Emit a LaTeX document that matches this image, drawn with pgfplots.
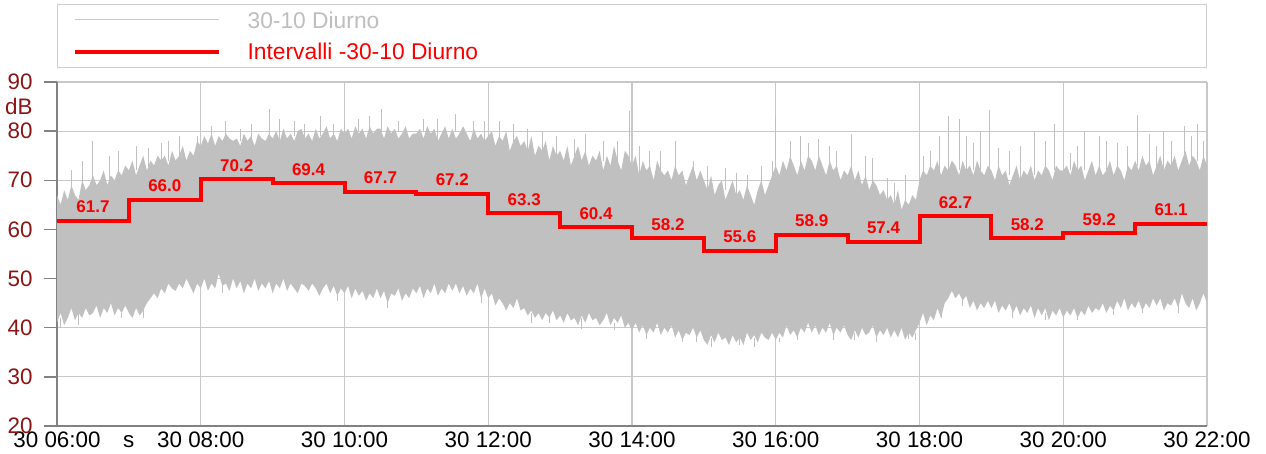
\documentclass[border=0pt]{standalone}
\usepackage{fontspec}
\setmainfont{Liberation Sans}
\usepackage{pgfplots}
\pgfplotsset{compat=1.18}
\usepgfplotslibrary{fillbetween}
\definecolor{datagray}{RGB}{192,192,192}
\definecolor{gridgray}{RGB}{200,200,200}
\definecolor{axisgray}{RGB}{130,130,130}
\definecolor{tickred}{RGB}{140,20,20}
\definecolor{stepred}{RGB}{250,0,0}
\definecolor{leggray}{RGB}{190,190,190}
\definecolor{legframe}{RGB}{205,205,205}
\begin{document}
\begin{tikzpicture}
\begin{axis}[
  scale only axis, width=575pt, height=172pt,
  xmin=6, xmax=22, ymin=20, ymax=90,
  axis x line*=bottom, axis y line*=left,
  axis line style={-, color=axisgray, line width=0.7pt},
  xtick={6,8,10,12,14,16,18,20,22},
  xticklabels={30 06:00,30 08:00,30 10:00,30 12:00,30 14:00,30 16:00,30 18:00,30 20:00,30 22:00},
  ytick={20,30,40,50,60,70,80,90},
  grid=major, major grid style={gridgray, line width=0.6pt},
  ytick align=outside, xtick align=inside,
  major tick length=6.5pt,
  y tick style={axisgray, line width=0.7pt},
  x tick style={draw=none},
  tick label style={font=\fontsize{11.2}{13}\selectfont},
  yticklabel style={text=tickred, inner xsep=0pt, anchor=east, xshift=-5.5pt},
  xticklabel style={text=black, anchor=base, inner sep=0pt, yshift=-11pt},
  /pgf/number format/assume math mode=true,
  xlabel={s},
  xlabel style={at={(axis description cs:0.0623,0)}, anchor=base, inner sep=0pt, yshift=-11pt, font=\fontsize{11.2}{13}\selectfont},
  ylabel={dB},
  ylabel style={rotate=-90, at={(axis description cs:0,0.93)}, anchor=east, inner sep=0pt, xshift=-12pt, text=tickred, font=\fontsize{11.2}{13}\selectfont},
  legend style={at={(axis description cs:0,1)}, anchor=south west, yshift=7pt,
    draw=legframe, line width=0.6pt, inner xsep=7.5pt, inner ysep=3.8pt,
    row sep=7.6pt, column sep=0pt,
    nodes={inner sep=0pt, text height=8.2pt, text depth=0pt, font=\fontsize{11.4}{13}\selectfont}},
  legend cell align=left,
  legend image code/.code={\draw[#1] (0pt,0pt) -- (72pt,0pt);},
]
% upper envelope of the measured level
\addplot[draw=none, name path=U, forget plot] coordinates {
(6.00,67)(6.05,65)(6.10,68)(6.15,66)(6.20,69)(6.25,67)(6.30,66)(6.35,70)(6.40,68)(6.45,69)
(6.50,71)(6.55,69)(6.60,70)(6.65,72)(6.70,69)(6.75,71)(6.80,70)(6.85,72)(6.90,71)(6.95,73)
(7.00,72)(7.05,74)(7.10,71)(7.15,73)(7.20,75)(7.25,72)(7.30,74)(7.35,73)(7.40,75)(7.45,74)
(7.50,75)(7.55,73)(7.60,76)(7.65,74)(7.70,75)(7.75,77)(7.80,74)(7.85,76)(7.90,75)(7.95,78)
(8.00,77)(8.05,79)(8.10,77.5)(8.15,79.5)(8.20,77)(8.25,79)(8.30,78)(8.35,79.5)(8.40,78.5)(8.45,78)
(8.50,78.5)(8.55,77)(8.60,79.5)(8.65,78)(8.70,79)(8.75,77)(8.80,79.5)(8.85,78.5)(8.90,78)(8.95,79.5)
(9.00,78.5)(9.05,80)(9.10,78)(9.15,80.5)(9.20,78.5)(9.25,79.5)(9.30,78)(9.35,80)(9.40,80.5)(9.45,78.5)
(9.50,79.5)(9.55,78)(9.60,80.5)(9.65,78.5)(9.70,79.5)(9.75,81)(9.80,78.5)(9.85,79.5)(9.90,78)(9.95,80.5)
(10.00,79.5)(10.05,80.5)(10.10,78.5)(10.15,81)(10.20,79.5)(10.25,80.5)(10.30,78.5)(10.35,81)(10.40,79.5)(10.45,80.5)
(10.50,80.5)(10.55,78.5)(10.60,81)(10.65,79.5)(10.70,80.5)(10.75,78.5)(10.80,79.5)(10.85,81)(10.90,78.5)(10.95,79.5)
(11.00,79.5)(11.05,80.5)(11.10,78.5)(11.15,81)(11.20,79.5)(11.25,80.5)(11.30,78)(11.35,79.5)(11.40,81)(11.45,78.5)
(11.50,80.5)(11.55,78.5)(11.60,79.5)(11.65,81)(11.70,79.5)(11.75,78)(11.80,80.5)(11.85,78.5)(11.90,79.5)(11.95,78)
(12.00,79)(12.05,80)(12.10,77)(12.15,79)(12.20,78)(12.25,80)(12.30,76)(12.35,78)(12.40,79)(12.45,77)
(12.50,78)(12.55,76)(12.60,79)(12.65,75)(12.70,77)(12.75,76)(12.80,78)(12.85,74)(12.90,77)(12.95,75)
(13.00,76)(13.05,74)(13.10,77)(13.15,73)(13.20,75)(13.25,77)(13.30,74)(13.35,76)(13.40,73)(13.45,75)
(13.50,74)(13.55,76)(13.60,72)(13.65,75)(13.70,73)(13.75,77)(13.80,74)(13.85,72)(13.90,76)(13.95,75)
(14.00,73)(14.05,75)(14.10,71)(14.15,74)(14.20,72)(14.25,73)(14.30,70)(14.35,74)(14.40,72)(14.45,71)
(14.50,72)(14.55,70)(14.60,73)(14.65,71)(14.70,72)(14.75,69)(14.80,71)(14.85,73)(14.90,70)(14.95,72)
(15.00,70)(15.05,68)(15.10,71)(15.15,67)(15.20,69)(15.25,70)(15.30,66)(15.35,68)(15.40,70)(15.45,67)
(15.50,68)(15.55,66)(15.60,69)(15.65,67)(15.70,65)(15.75,68)(15.80,70)(15.85,67)(15.90,69)(15.95,71)
(16.00,73)(16.05,71)(16.10,74)(16.15,72)(16.20,75)(16.25,73)(16.30,71)(16.35,74)(16.40,72)(16.45,75)
(16.50,74)(16.55,72)(16.60,75)(16.65,73)(16.70,71)(16.75,74)(16.80,72)(16.85,73)(16.90,70)(16.95,72)
(17.00,71)(17.05,73)(17.10,70)(17.15,72)(17.20,69)(17.25,71)(17.30,68)(17.35,70)(17.40,69)(17.45,67)
(17.50,68)(17.55,66)(17.60,67)(17.65,65)(17.70,68)(17.75,64)(17.80,66)(17.85,65)(17.90,67)(17.95,66)
(18.00,70)(18.05,72)(18.10,71)(18.15,73)(18.20,72)(18.25,74)(18.30,71)(18.35,73)(18.40,72)(18.45,74)
(18.50,73)(18.55,71)(18.60,74)(18.65,72)(18.70,73)(18.75,71)(18.80,74)(18.85,72)(18.90,71)(18.95,73)
(19.00,72)(19.05,70)(19.10,73)(19.15,71)(19.20,72)(19.25,69)(19.30,71)(19.35,73)(19.40,70)(19.45,72)
(19.50,71)(19.55,73)(19.60,70)(19.65,72)(19.70,71)(19.75,73)(19.80,72)(19.85,70)(19.90,73)(19.95,72)
(20.00,72)(20.05,73)(20.10,71)(20.15,74)(20.20,72)(20.25,73)(20.30,70)(20.35,72)(20.40,74)(20.45,71)
(20.50,73)(20.55,71)(20.60,72)(20.65,74)(20.70,71)(20.75,73)(20.80,72)(20.85,70)(20.90,73)(20.95,72)
(21.00,74)(21.05,72)(21.10,75)(21.15,73)(21.20,74)(21.25,71)(21.30,73)(21.35,75)(21.40,72)(21.45,74)
(21.50,73)(21.55,75)(21.60,72)(21.65,74)(21.70,76)(21.75,73)(21.80,75)(21.85,74)(21.90,72)(21.95,75)
(22.00,73)};
% lower envelope of the measured level
\addplot[draw=none, name path=L, forget plot] coordinates {
(6.00,41)(6.05,43)(6.10,40.5)(6.15,42)(6.20,44)(6.25,41.5)(6.30,43)(6.35,42)(6.40,44)(6.45,42.5)
(6.50,43)(6.55,44.5)(6.60,42)(6.65,44)(6.70,43)(6.75,45)(6.80,42.5)(6.85,44)(6.90,43)(6.95,44.5)
(7.00,43)(7.05,42)(7.10,44)(7.15,42.5)(7.20,43.5)(7.25,45)(7.30,46)(7.35,47)(7.40,46)(7.45,48)
(7.50,47)(7.55,49)(7.60,48)(7.65,47.5)(7.70,49)(7.75,48)(7.80,50)(7.85,48.5)(7.90,47)(7.95,49)
(8.00,48)(8.05,50)(8.10,47.5)(8.15,49)(8.20,48)(8.25,51)(8.30,48.5)(8.35,49)(8.40,47.5)(8.45,50)
(8.50,48)(8.55,49.5)(8.60,47)(8.65,49)(8.70,48)(8.75,50)(8.80,47.5)(8.85,49)(8.90,48)(8.95,49.5)
(9.00,47)(9.05,49)(9.10,48)(9.15,50)(9.20,47.5)(9.25,49)(9.30,48)(9.35,47)(9.40,49)(9.45,48.5)
(9.50,47.5)(9.55,49)(9.60,48)(9.65,46.5)(9.70,48)(9.75,49)(9.80,47)(9.85,48.5)(9.90,46.5)(9.95,48)
(10.00,47)(10.05,48.5)(10.10,46)(10.15,48)(10.20,46.5)(10.25,47.5)(10.30,45.5)(10.35,47)(10.40,46)(10.45,48)
(10.50,46)(10.55,47.5)(10.60,45)(10.65,47)(10.70,46.5)(10.75,48)(10.80,45.5)(10.85,47)(10.90,46)(10.95,48)
(11.00,47)(11.05,48.5)(11.10,46)(11.15,48)(11.20,47)(11.25,49)(11.30,46.5)(11.35,48)(11.40,47)(11.45,49)
(11.50,47.5)(11.55,49)(11.60,47)(11.65,48.5)(11.70,46.5)(11.75,48)(11.80,47)(11.85,49)(11.90,46)(11.95,48)
(12.00,46)(12.05,47)(12.10,44.5)(12.15,46)(12.20,45)(12.25,43.5)(12.30,45)(12.35,44)(12.40,46)(12.45,43.5)
(12.50,44)(12.55,42.5)(12.60,43.5)(12.65,42)(12.70,43)(12.75,41.5)(12.80,43)(12.85,42)(12.90,43.5)(12.95,41.5)
(13.00,42.5)(13.05,41)(13.10,43)(13.15,41.5)(13.20,42)(13.25,40.5)(13.30,42.5)(13.35,41)(13.40,43)(13.45,41.5)
(13.50,42)(13.55,40.5)(13.60,41.5)(13.65,43)(13.70,40.5)(13.75,42)(13.80,41)(13.85,42.5)(13.90,40)(13.95,41)
(14.00,39.5)(14.05,41)(14.10,39)(14.15,40.5)(14.20,38.5)(14.25,40)(14.30,39)(14.35,41)(14.40,38.5)(14.45,40)
(14.50,39)(14.55,40.5)(14.60,38)(14.65,39.5)(14.70,37.5)(14.75,39)(14.80,38.5)(14.85,40)(14.90,38)(14.95,39.5)
(15.00,37.5)(15.05,36.5)(15.10,38.5)(15.15,37)(15.20,39)(15.25,37.5)(15.30,38)(15.35,36.5)(15.40,38.5)(15.45,37)
(15.50,38)(15.55,36.5)(15.60,39)(15.65,37.5)(15.70,38.5)(15.75,37)(15.80,39)(15.85,38)(15.90,37.5)(15.95,39)
(16.00,37.5)(16.05,39)(16.10,38)(16.15,40.5)(16.20,38.5)(16.25,39.5)(16.30,38)(16.35,40)(16.40,39)(16.45,41)
(16.50,39)(16.55,40.5)(16.60,38.5)(16.65,40)(16.70,39)(16.75,41)(16.80,38.5)(16.85,40)(16.90,39)(16.95,40.5)
(17.00,38.5)(17.05,37.5)(17.10,39.5)(17.15,38)(17.20,40)(17.25,38.5)(17.30,39)(17.35,40.5)(17.40,38)(17.45,39.5)
(17.50,38.5)(17.55,40)(17.60,38)(17.65,39.5)(17.70,38)(17.75,40)(17.80,37.5)(17.85,39)(17.90,38)(17.95,39.5)
(18.00,41)(18.05,43)(18.10,40.5)(18.15,42.5)(18.20,41.5)(18.25,44)(18.30,42)(18.35,45)(18.40,46)(18.45,47.5)
(18.50,46)(18.55,47)(18.60,45.5)(18.65,46.5)(18.70,44)(18.75,45.5)(18.80,43.5)(18.85,45)(18.90,44)(18.95,45.5)
(19.00,44)(19.05,45.5)(19.10,43)(19.15,44.5)(19.20,43.5)(19.25,45)(19.30,43)(19.35,44.5)(19.40,42.5)(19.45,44)
(19.50,43)(19.55,44.5)(19.60,42)(19.65,44)(19.70,42.5)(19.75,44)(19.80,41.5)(19.85,43.5)(19.90,42.5)(19.95,44)
(20.00,42)(20.05,43.5)(20.10,42.5)(20.15,44)(20.20,42)(20.25,43.5)(20.30,42.5)(20.35,44.5)(20.40,43)(20.45,44)
(20.50,43.5)(20.55,45)(20.60,43)(20.65,44.5)(20.70,43.5)(20.75,45.5)(20.80,44)(20.85,46)(20.90,43.5)(20.95,45)
(21.00,44)(21.05,45.5)(21.10,43.5)(21.15,45)(21.20,44)(21.25,46)(21.30,44.5)(21.35,46)(21.40,43.5)(21.45,45)
(21.50,44.5)(21.55,46)(21.60,44)(21.65,47)(21.70,45)(21.75,44)(21.80,46)(21.85,43.5)(21.90,45)(21.95,47)
(22.00,45)};
\addplot[datagray, forget plot] fill between[of=U and L];
% isolated peaks and dips
\addplot[datagray, line width=0.5pt, forget plot, unbounded coords=jump] coordinates {
(6.50,68)(6.50,78)(6.50,nan) (6.73,70)(6.73,75)(6.73,nan) (7.27,72)(7.27,76.5)(7.27,nan)
(7.55,74)(7.55,78)(7.55,nan) (7.95,75)(7.95,79)(7.95,nan) (8.15,78)(8.15,81)(8.15,nan)
(8.55,78)(8.55,80.5)(8.55,nan) (8.96,78)(8.96,84.6)(8.96,nan) (9.30,79)(9.30,82)(9.30,nan)
(9.66,79)(9.66,83)(9.66,nan) (9.85,79)(9.85,81.5)(9.85,nan) (10.20,80)(10.20,82.5)(10.20,nan)
(10.52,80)(10.52,84.6)(10.52,nan) (10.75,80)(10.75,82)(10.75,nan) (11.10,80)(11.10,82.5)(11.10,nan)
(11.55,80)(11.55,83.5)(11.55,nan) (11.80,79)(11.80,82)(11.80,nan) (12.15,78)(12.15,82)(12.15,nan)
(12.35,77)(12.35,81.5)(12.35,nan) (12.75,76)(12.75,80)(12.75,nan) (13.20,75)(13.20,78.5)(13.20,nan)
(13.60,74)(13.60,78)(13.60,nan) (13.97,74)(13.97,84)(13.97,nan) (14.25,72)(14.25,76)(14.25,nan)
(14.60,71)(14.60,78)(14.60,nan) (14.85,70)(14.85,74)(14.85,nan) (15.30,68)(15.30,72.5)(15.30,nan)
(15.60,67)(15.60,71)(15.60,nan) (15.80,68)(15.80,73)(15.80,nan) (16.00,72)(16.00,83)(16.00,nan)
(16.20,73)(16.20,78)(16.20,nan) (16.35,73)(16.35,79)(16.35,nan) (16.60,73)(16.60,78.5)(16.60,nan)
(16.85,71)(16.85,76)(16.85,nan) (17.05,70)(17.05,79.5)(17.05,nan) (17.25,69)(17.25,75)(17.25,nan)
(17.55,66)(17.55,70.5)(17.55,nan) (17.80,65)(17.80,71)(17.80,nan) (18.15,71)(18.15,76)(18.15,nan)
(18.28,72)(18.28,79)(18.28,nan) (18.40,72)(18.40,83)(18.40,nan) (18.55,72)(18.55,82.5)(18.55,nan)
(18.75,72)(18.75,77.5)(18.75,nan) (18.98,72)(18.98,84.4)(18.98,nan) (19.25,71)(19.25,76)(19.25,nan)
(19.60,71)(19.60,80)(19.60,nan) (19.88,72)(19.88,81.5)(19.88,nan) (20.10,72)(20.10,75.5)(20.10,nan)
(20.30,72)(20.30,80)(20.30,nan) (20.50,72)(20.50,79)(20.50,nan) (20.75,71)(20.75,77.5)(20.75,nan)
(21.03,73)(21.03,83.2)(21.03,nan) (21.30,73)(21.30,77)(21.30,nan) (21.50,73)(21.50,78)(21.50,nan)
(21.68,74)(21.68,81)(21.68,nan) (21.87,74)(21.87,81.5)(21.87,nan)
(6.20,67)(6.20,72)(6.20,nan) (6.35,68)(6.35,74)(6.35,nan) (6.85,71)(6.85,76)(6.85,nan)
(7.10,72)(7.10,77)(7.10,nan) (7.45,73)(7.45,77.5)(7.45,nan) (7.70,74)(7.70,79)(7.70,nan)
(8.35,78)(8.35,82)(8.35,nan) (8.70,78)(8.70,81.5)(8.70,nan) (9.10,78)(9.10,82.5)(9.10,nan)
(9.45,78)(9.45,81.5)(9.45,nan) (10.00,79)(10.00,82)(10.00,nan) (10.35,80)(10.35,83)(10.35,nan)
(11.30,78)(11.30,82.5)(11.30,nan) (11.95,78)(11.95,82)(11.95,nan) (12.55,76)(12.55,80.5)(12.55,nan)
(12.95,75)(12.95,79)(12.95,nan) (13.35,75)(13.35,79.5)(13.35,nan) (13.80,74)(13.80,78)(13.80,nan)
(14.10,71)(14.10,77)(14.10,nan) (14.40,72)(14.40,76)(14.40,nan) (15.05,68)(15.05,73)(15.05,nan)
(15.45,67)(15.45,71.5)(15.45,nan) (15.95,70)(15.95,74)(15.95,nan) (16.45,74)(16.45,77.5)(16.45,nan)
(16.75,73)(16.75,77)(16.75,nan) (17.35,69)(17.35,74.5)(17.35,nan) (17.65,65)(17.65,69.5)(17.65,nan)
(18.05,71)(18.05,75)(18.05,nan) (18.65,72)(18.65,79)(18.65,nan) (18.85,72)(18.85,80)(18.85,nan)
(19.10,72)(19.10,76.5)(19.10,nan) (19.40,70)(19.40,77)(19.40,nan) (19.75,72)(19.75,78)(19.75,nan)
(20.20,72)(20.20,77)(20.20,nan) (20.60,72)(20.60,78)(20.60,nan) (20.90,72)(20.90,77)(20.90,nan)
(21.20,73)(21.20,79.5)(21.20,nan) (21.40,72)(21.40,80)(21.40,nan) (21.78,74)(21.78,79)(21.78,nan)
(21.95,74)(21.95,78)(21.95,nan)
(6.05,42)(6.05,40)(6.05,nan) (7.20,44)(7.20,42)(7.20,nan) (12.85,43)(12.85,41)(12.85,nan)
(13.75,41)(13.75,39.5)(13.75,nan) (14.70,39)(14.70,37)(14.70,nan) (15.10,38)(15.10,36)(15.10,nan)
(15.50,38)(15.50,36.5)(15.50,nan) (16.05,38)(16.05,37)(16.05,nan) (17.10,39)(17.10,37.5)(17.10,nan)
(17.85,39)(17.85,37.8)(17.85,nan) (18.30,44)(18.30,42)(18.30,nan) (19.75,43)(19.75,41.5)(19.75,nan)
(21.10,45)(21.10,43)(21.10,nan)
(6.30,43)(6.30,40.5)(6.30,nan) (6.90,43)(6.90,42)(6.90,nan) (8.30,48.5)(8.30,47)(8.30,nan)
(9.90,47)(9.90,45.5)(9.90,nan) (10.60,45.5)(10.60,44)(10.60,nan) (11.90,46.5)(11.90,45)(11.90,nan)
(12.60,43)(12.60,41)(12.60,nan) (13.30,42)(13.30,39.8)(13.30,nan) (14.20,39)(14.20,37.8)(14.20,nan)
(14.90,38.5)(14.90,37)(14.90,nan) (15.70,38)(15.70,36)(15.70,nan) (16.30,38.5)(16.30,37.5)(16.30,nan)
(16.80,39)(16.80,37.5)(16.80,nan) (17.40,38.5)(17.40,37)(17.40,nan) (17.95,39)(17.95,37.5)(17.95,nan)
(18.60,46)(18.60,44.5)(18.60,nan) (19.30,43.5)(19.30,42)(19.30,nan) (20.20,42.5)(20.20,41.5)(20.20,nan)
(20.70,43.5)(20.70,42.5)(20.70,nan) (21.60,44.5)(21.60,43)(21.60,nan)};
% hourly intervals
\addplot[const plot, stepred, line width=2pt, line join=miter, forget plot] coordinates {
(6,61.7)(7,66.0)(8,70.2)(9,69.4)(10,67.7)(11,67.2)(12,63.3)(13,60.4)(14,58.2)(15,55.6)
(16,58.9)(17,57.4)(18,62.7)(19,58.2)(20,59.2)(21,61.1)(22,61.1)};
\addplot[draw=none, forget plot, point meta=y,
  nodes near coords={\pgfmathprintnumber[fixed,fixed zerofill,precision=1]{\pgfplotspointmeta}},
  every node near coord/.append style={anchor=center, yshift=7pt, inner sep=0pt, text=stepred, font=\bfseries\fontsize{8.5}{10}\selectfont}]
  coordinates {
(6.5,61.7)(7.5,66.0)(8.5,70.2)(9.5,69.4)(10.5,67.7)(11.5,67.2)(12.5,63.3)(13.5,60.4)(14.5,58.2)(15.5,55.6)
(16.5,58.9)(17.5,57.4)(18.5,62.7)(19.5,58.2)(20.5,59.2)(21.5,61.1)};
\addlegendimage{color=gridgray, line width=0.5pt}
\addlegendentry{\hspace*{13.5pt}\makebox[472pt][l]{\textcolor{leggray}{30-10 Diurno}}}
\addlegendimage{color=stepred, line width=2pt}
\addlegendentry{\hspace*{13.5pt}\makebox[472pt][l]{\textcolor{stepred}{Intervalli -30-10 Diurno}}}
\end{axis}
\pgfresetboundingbox
\path ([xshift=-28.5pt,yshift=-14pt]current axis.south west) rectangle ([xshift=29.5pt,yshift=41pt]current axis.north east);
\end{tikzpicture}
\end{document}
